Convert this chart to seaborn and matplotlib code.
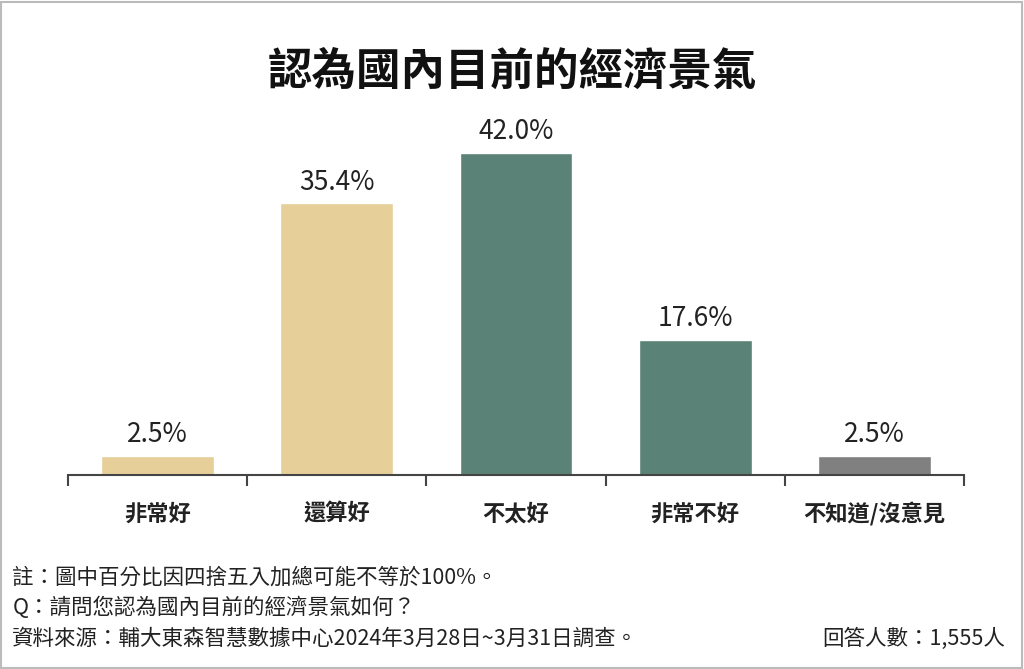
import matplotlib
matplotlib.use('Agg')
import matplotlib.pyplot as plt
import seaborn as sns
import pandas as pd
from matplotlib.patches import Rectangle

# 資料
categories = ['非常好', '還算好', '不太好', '非常不好', '不知道/沒意見']
values = [2.5, 35.4, 42.0, 17.6, 2.5]
colors = ['#E6CF98', '#E6CF98', '#5A8276', '#5A8276', '#808080']
title = '認為國內目前的經濟景氣'
notes = ['註：圖中百分比因四捨五入加總可能不等於100%。',
         'Q：請問您認為國內目前的經濟景氣如何？',
         '資料來源：輔大東森智慧數據中心2024年3月28日~3月31日調查。']
sample = '回答人數：1,555人'

sns.set_style('white')
plt.rcParams['font.family'] = ['Noto Sans CJK TC', 'DejaVu Sans']

df = pd.DataFrame({'cat': categories, 'val': values})

fig = plt.figure(figsize=(10.24, 6.69), dpi=100)
ax = fig.add_axes([0.0664, 0.29, 0.875, 0.516])

sns.barplot(data=df, x='cat', y='val', hue='cat', palette=colors,
            legend=False, width=0.63, saturation=1, ax=ax)

for i, v in enumerate(values):
    ax.text(i, v + 1.0, f'{v:.1f}%', ha='center', va='bottom',
            fontsize=19, color='#222222')

ax.set_xlim(-0.5, len(categories) - 0.5)
ax.set_ylim(0, 45)
ax.set_xlabel('')
ax.set_ylabel('')
ax.set_yticks([])
ax.set_xticks(range(len(categories)))
ax.set_xticklabels(categories, fontsize=16, fontweight='bold', color='#222222')
ax.tick_params(axis='x', which='major', length=0, pad=20)
ax.set_xticks([i - 0.5 for i in range(len(categories) + 1)], minor=True)
ax.tick_params(axis='x', which='minor', bottom=True, length=8, width=1.5,
               color='#444444', direction='out')
for s in ['top', 'right', 'left']:
    ax.spines[s].set_visible(False)
ax.spines['bottom'].set_color('#444444')
ax.spines['bottom'].set_linewidth(1.5)

fig.text(0.5, 0.893, title, ha='center', va='center', fontsize=32,
         fontweight='bold', color='#111111')

ys = [0.137, 0.091, 0.045]
for y, t in zip(ys, notes):
    fig.text(0.012, y, t, ha='left', va='center', fontsize=15.5, color='#222222')
fig.text(0.982, 0.045, sample, ha='right', va='center', fontsize=15.5, color='#222222')

fig.patches.append(Rectangle((0.001, 0.002), 0.997, 0.995, transform=fig.transFigure,
                             fill=False, edgecolor='#bbbbbb', linewidth=1.5))

fig.savefig('out.png', dpi=100)
